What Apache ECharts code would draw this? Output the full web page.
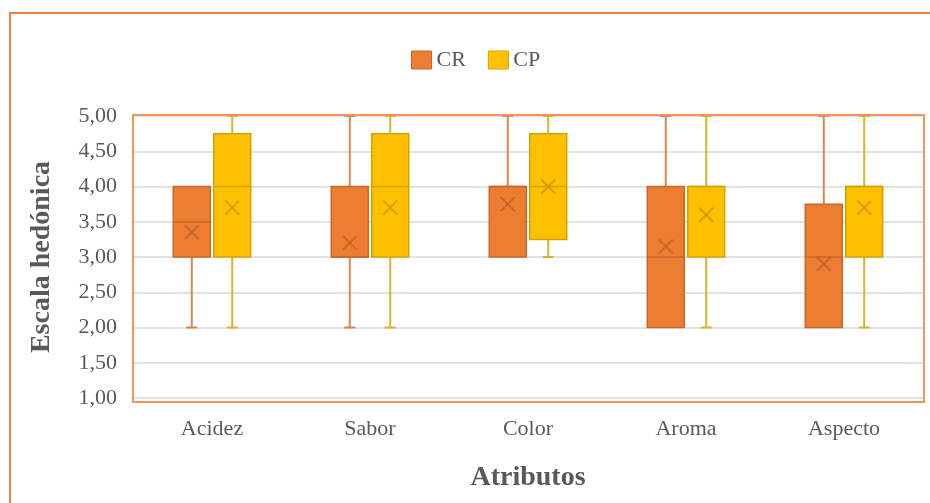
<!DOCTYPE html>
<html>
<head>
<meta charset="utf-8">
<script src="https://cdn.jsdelivr.net/npm/echarts@6/dist/echarts.min.js"></script>
<style>
  html, body { margin: 0; padding: 0; background: #fff; }
  #chart { width: 930px; height: 503px; }
</style>
</head>
<body>
<div id="chart"></div>
<script>
// Categories on the horizontal axis
const categories = ['Acidez', 'Sabor', 'Color', 'Aroma', 'Aspecto'];

// Box statistics per attribute: [min, Q1, median, Q3, max]
const crStats = [
  [2, 3, 3.5, 4, 4],
  [2, 3, 3, 4, 5],
  [3, 3, 4, 4, 5],
  [2, 2, 3, 4, 5],
  [2, 2, 3, 3.75, 5]
];
const cpStats = [
  [2, 3, 4, 4.75, 5],
  [2, 3, 4, 4.75, 5],
  [3, 3.25, 4, 4.75, 5],
  [2, 3, 4, 4, 5],
  [2, 3, 4, 4, 5]
];

// Means (drawn as an X marker)
const crMean = [3.35, 3.2, 3.75, 3.15, 2.9];
const cpMean = [3.7, 3.7, 4.0, 3.6, 3.7];

// Y axis tick labels (decimal comma)
const yTickValues = [1, 1.5, 2, 2.5, 3, 3.5, 4, 4.5, 5];
const yTickLabels = ['1,00', '1,50', '2,00', '2,50', '3,00', '3,50', '4,00', '4,50', '5,00'];

const seriesNames = ['CR', 'CP'];

const FONT = '"Liberation Serif", "Times New Roman", serif';
const TEXT_COLOR = '#595959';

const palette = {
  CR: { fill: '#ED7D31', stroke: '#C8662C', whisker: '#D9864F', mean: 'rgba(190,95,40,0.7)' },
  CP: { fill: '#FFC000', stroke: '#D4A200', whisker: '#E0B22A', mean: 'rgba(200,150,0,0.75)' }
};

function buildData(stats, means) {
  return stats.map((s, i) => [i].concat(s, [means[i]]));
}

// Horizontal offset of each box from the category centre, as a share of the band
const offsets = { CR: -0.128, CP: 0.128 };
const BOX_SHARE = 0.234;

function makeRenderer(name) {
  const c = palette[name];
  return function (params, api) {
    const cat = api.value(0);
    const vMin = api.value(1), q1 = api.value(2), med = api.value(3),
          q3 = api.value(4), vMax = api.value(5), mean = api.value(6);
    const band = api.size([1, 0])[0];
    const cx = api.coord([cat, 0])[0] + offsets[name] * band;
    const y = v => api.coord([cat, v])[1];
    const hw = band * BOX_SHARE / 2;
    const capHalf = 5.5;
    const children = [];
    const whiskerStyle = { stroke: c.whisker, lineWidth: 2 };

    if (vMax > q3) {
      children.push({ type: 'line', shape: { x1: cx, y1: y(q3), x2: cx, y2: y(vMax) }, style: whiskerStyle });
      children.push({ type: 'line', shape: { x1: cx - capHalf, y1: y(vMax), x2: cx + capHalf, y2: y(vMax) }, style: whiskerStyle });
    }
    if (vMin < q1) {
      children.push({ type: 'line', shape: { x1: cx, y1: y(q1), x2: cx, y2: y(vMin) }, style: whiskerStyle });
      children.push({ type: 'line', shape: { x1: cx - capHalf, y1: y(vMin), x2: cx + capHalf, y2: y(vMin) }, style: whiskerStyle });
    }
    // Interquartile box
    children.push({
      type: 'rect',
      shape: { x: cx - hw, y: y(q3), width: hw * 2, height: y(q1) - y(q3) },
      style: { fill: c.fill, stroke: c.stroke, lineWidth: 1.5 }
    });
    // Median
    children.push({
      type: 'line',
      shape: { x1: cx - hw, y1: y(med), x2: cx + hw, y2: y(med) },
      style: { stroke: c.stroke, lineWidth: 1.5 }
    });
    // Mean marker
    const m = 7, ym = y(mean);
    children.push({
      type: 'polyline',
      shape: { points: [[cx - m, ym - m], [cx + m, ym + m]] },
      style: { stroke: c.mean, lineWidth: 2, fill: null }
    });
    children.push({
      type: 'polyline',
      shape: { points: [[cx - m, ym + m], [cx + m, ym - m]] },
      style: { stroke: c.mean, lineWidth: 2, fill: null }
    });
    return { type: 'group', children: children };
  };
}

const chart = echarts.init(document.getElementById('chart'), null, { renderer: 'canvas' });

const option = {
  backgroundColor: '#ffffff',
  animation: false,
  textStyle: { fontFamily: FONT },
  legend: {
    left: 406,
    top: 44,
    itemWidth: 20,
    itemHeight: 18,
    itemGap: 22,
    textStyle: { fontFamily: FONT, fontSize: 22, color: TEXT_COLOR },
    data: seriesNames.map(n => ({
      name: n,
      icon: 'rect',
      itemStyle: { color: palette[n].fill, borderColor: palette[n].stroke, borderWidth: 1 }
    }))
  },
  grid: { left: 133, right: 7, top: 116, bottom: 105 },
  xAxis: {
    type: 'category',
    data: categories,
    boundaryGap: true,
    axisLine: { show: false },
    axisTick: { show: false },
    axisLabel: { fontFamily: FONT, fontSize: 22, color: TEXT_COLOR, margin: 20 },
    name: 'Atributos',
    nameLocation: 'middle',
    nameGap: 66,
    nameTextStyle: { fontFamily: FONT, fontSize: 28, fontWeight: 'bold', color: TEXT_COLOR }
  },
  yAxis: {
    type: 'value',
    min: 1,
    max: 5,
    interval: 0.5,
    axisLine: { show: false },
    axisTick: { show: false },
    splitLine: { lineStyle: { color: '#D9D9D9', width: 1.5 } },
    axisLabel: {
      fontFamily: FONT, fontSize: 22, color: TEXT_COLOR, margin: 16,
      formatter: v => {
        const i = yTickValues.indexOf(v);
        return i >= 0 ? yTickLabels[i] : '';
      }
    },
    name: 'Escala hedónica',
    nameLocation: 'middle',
    nameGap: 77,
    nameTextStyle: { fontFamily: FONT, fontSize: 28, fontWeight: 'bold', color: TEXT_COLOR }
  },
  graphic: [
    {
      type: 'rect',
      silent: true,
      z: 100,
      shape: { x: 10, y: 13, width: 1000, height: 600 },
      style: { fill: null, stroke: '#EE8040', lineWidth: 2 }
    },
    {
      type: 'rect',
      silent: true,
      z: 100,
      shape: { x: 133, y: 115, width: 791, height: 287 },
      style: { fill: null, stroke: '#F2955A', lineWidth: 2 }
    }
  ],
  series: [
    {
      name: 'CR',
      type: 'custom',
      itemStyle: { color: palette.CR.fill },
      renderItem: makeRenderer('CR'),
      encode: { x: 0, y: [1, 2, 3, 4, 5, 6] },
      data: buildData(crStats, crMean)
    },
    {
      name: 'CP',
      type: 'custom',
      itemStyle: { color: palette.CP.fill },
      renderItem: makeRenderer('CP'),
      encode: { x: 0, y: [1, 2, 3, 4, 5, 6] },
      data: buildData(cpStats, cpMean)
    }
  ]
};

chart.setOption(option);
</script>
</body>
</html>
